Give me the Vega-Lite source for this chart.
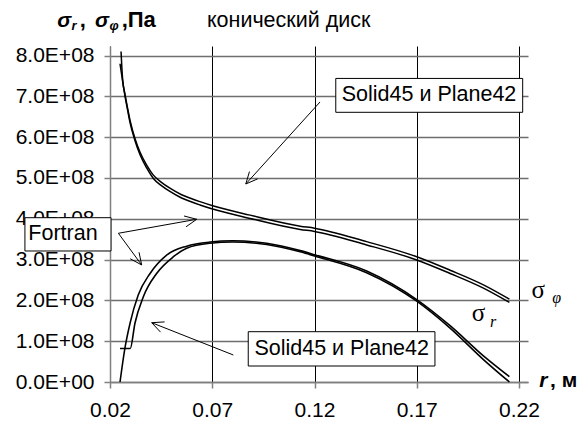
{
  "$schema": "https://vega.github.io/schema/vega-lite/v6.json",
  "width": 418,
  "height": 336,
  "autosize": {"type": "none"},
  "padding": {"left": 110, "top": 46, "right": 60, "bottom": 41},
  "background": "white",
  "config": {"view": {"stroke": null}, "font": "Liberation Sans"},
  "datasets": {
    "curves": [
      {"series": "phiF", "r": 0.0254, "s": 810000000},
      {"series": "phiF", "r": 0.0258, "s": 770000000},
      {"series": "phiF", "r": 0.0262, "s": 740000000},
      {"series": "phiF", "r": 0.0273, "s": 706000000},
      {"series": "phiF", "r": 0.0286, "s": 671000000},
      {"series": "phiF", "r": 0.0298, "s": 641000000},
      {"series": "phiF", "r": 0.0322, "s": 597000000},
      {"series": "phiF", "r": 0.0347, "s": 563000000},
      {"series": "phiF", "r": 0.038, "s": 531000000},
      {"series": "phiF", "r": 0.0412, "s": 507000000},
      {"series": "phiF", "r": 0.045, "s": 490000000},
      {"series": "phiF", "r": 0.0493, "s": 475000000},
      {"series": "phiF", "r": 0.055, "s": 459000000},
      {"series": "phiF", "r": 0.06, "s": 449000000},
      {"series": "phiF", "r": 0.064, "s": 442000000},
      {"series": "phiF", "r": 0.0702, "s": 432000000},
      {"series": "phiF", "r": 0.0885, "s": 409000000},
      {"series": "phiF", "r": 0.113, "s": 382000000},
      {"series": "phiF", "r": 0.12, "s": 377000000},
      {"series": "phiF", "r": 0.1455, "s": 344000000},
      {"series": "phiF", "r": 0.17, "s": 307000000},
      {"series": "phiF", "r": 0.1863, "s": 274000000},
      {"series": "phiF", "r": 0.2026, "s": 238000000},
      {"series": "phiF", "r": 0.2153, "s": 203000000},
      {"series": "phiA", "r": 0.0249, "s": 780000000},
      {"series": "phiA", "r": 0.0261, "s": 740000000},
      {"series": "phiA", "r": 0.0273, "s": 702000000},
      {"series": "phiA", "r": 0.0286, "s": 667000000},
      {"series": "phiA", "r": 0.0298, "s": 636000000},
      {"series": "phiA", "r": 0.0322, "s": 592000000},
      {"series": "phiA", "r": 0.0347, "s": 557000000},
      {"series": "phiA", "r": 0.038, "s": 524000000},
      {"series": "phiA", "r": 0.0412, "s": 499000000},
      {"series": "phiA", "r": 0.045, "s": 482000000},
      {"series": "phiA", "r": 0.0493, "s": 467000000},
      {"series": "phiA", "r": 0.055, "s": 451000000},
      {"series": "phiA", "r": 0.06, "s": 441000000},
      {"series": "phiA", "r": 0.064, "s": 434000000},
      {"series": "phiA", "r": 0.0702, "s": 424000000},
      {"series": "phiA", "r": 0.0885, "s": 401000000},
      {"series": "phiA", "r": 0.113, "s": 374000000},
      {"series": "phiA", "r": 0.12, "s": 369000000},
      {"series": "phiA", "r": 0.1455, "s": 336000000},
      {"series": "phiA", "r": 0.17, "s": 299000000},
      {"series": "phiA", "r": 0.1863, "s": 266000000},
      {"series": "phiA", "r": 0.2026, "s": 230000000},
      {"series": "phiA", "r": 0.2153, "s": 195000000},
      {"series": "rA", "r": 0.0249, "s": 0},
      {"series": "rA", "r": 0.0273, "s": 83000000},
      {"series": "rA", "r": 0.0298, "s": 144000000},
      {"series": "rA", "r": 0.0338, "s": 213000000},
      {"series": "rA", "r": 0.0396, "s": 266000000},
      {"series": "rA", "r": 0.0477, "s": 311000000},
      {"series": "rA", "r": 0.0575, "s": 333000000},
      {"series": "rA", "r": 0.0689, "s": 343000000},
      {"series": "rA", "r": 0.08, "s": 346000000},
      {"series": "rA", "r": 0.0966, "s": 340000000},
      {"series": "rA", "r": 0.113, "s": 322000000},
      {"series": "rA", "r": 0.12, "s": 312000000},
      {"series": "rA", "r": 0.1455, "s": 272000000},
      {"series": "rA", "r": 0.17, "s": 202000000},
      {"series": "rA", "r": 0.1863, "s": 138000000},
      {"series": "rA", "r": 0.2026, "s": 64000000},
      {"series": "rA", "r": 0.2153, "s": 13000000},
      {"series": "rF", "r": 0.0249, "s": 82000000},
      {"series": "rF", "r": 0.0299, "s": 82000000},
      {"series": "rF", "r": 0.0322, "s": 144000000},
      {"series": "rF", "r": 0.0363, "s": 209000000},
      {"series": "rF", "r": 0.0428, "s": 266000000},
      {"series": "rF", "r": 0.051, "s": 307000000},
      {"series": "rF", "r": 0.0575, "s": 328000000},
      {"series": "rF", "r": 0.0689, "s": 340000000},
      {"series": "rF", "r": 0.08, "s": 343000000},
      {"series": "rF", "r": 0.0966, "s": 337000000},
      {"series": "rF", "r": 0.113, "s": 319000000},
      {"series": "rF", "r": 0.12, "s": 309000000},
      {"series": "rF", "r": 0.1455, "s": 268000000},
      {"series": "rF", "r": 0.17, "s": 198000000},
      {"series": "rF", "r": 0.1863, "s": 132000000},
      {"series": "rF", "r": 0.2026, "s": 55000000},
      {"series": "rF", "r": 0.2153, "s": 0}
    ],
    "boxes": [
      {"label": "Solid45 и Plane42", "x1": 0.1304, "x2": 0.2218, "y1": 744000000, "y2": 661000000, "tx": 0.176, "ty": 703000000},
      {"label": "Solid45 и Plane42", "x1": 0.0876, "x2": 0.1789, "y1": 123300000, "y2": 39200000, "tx": 0.1333, "ty": 81400000},
      {"label": "Fortran", "x1": -0.0216, "x2": 0.0205, "y1": 402700000, "y2": 321100000, "tx": -0.003, "ty": 362000000}
    ],
    "arrows": [
      {"arrow": "a1", "k": 1, "r": 0.1227, "s": 686300000},
      {"arrow": "a1", "k": 2, "r": 0.0864, "s": 485300000},
      {"arrow": "a1h", "k": 1, "r": 0.0922, "s": 497800000},
      {"arrow": "a1h", "k": 2, "r": 0.0864, "s": 485300000},
      {"arrow": "a1h", "k": 3, "r": 0.0882, "s": 515700000},
      {"arrow": "a2", "k": 1, "r": 0.0803, "s": 66200000},
      {"arrow": "a2", "k": 2, "r": 0.0404, "s": 145300000},
      {"arrow": "a2h", "k": 1, "r": 0.0447, "s": 122300000},
      {"arrow": "a2h", "k": 2, "r": 0.0404, "s": 145300000},
      {"arrow": "a2h", "k": 3, "r": 0.0467, "s": 147300000},
      {"arrow": "a3", "k": 1, "r": 0.0624, "s": 398800000},
      {"arrow": "a3", "k": 2, "r": 0.0241, "s": 364500000},
      {"arrow": "a3", "k": 3, "r": 0.0355, "s": 286800000},
      {"arrow": "a3h", "k": 1, "r": 0.0562, "s": 406900000},
      {"arrow": "a3h", "k": 2, "r": 0.0624, "s": 398800000},
      {"arrow": "a3h", "k": 3, "r": 0.0572, "s": 380400000},
      {"arrow": "a4h", "k": 1, "r": 0.0342, "s": 317900000},
      {"arrow": "a4h", "k": 2, "r": 0.0355, "s": 286800000},
      {"arrow": "a4h", "k": 3, "r": 0.0299, "s": 302000000}
    ],
    "labels": [
      {"kind": "tb", "text": "σ", "r": -0.0058, "s": 870000000},
      {"kind": "ts", "text": "r", "r": 0.0012, "s": 862800000},
      {"kind": "tn", "text": ",", "r": 0.0052, "s": 870000000},
      {"kind": "tb", "text": "σ", "r": 0.0127, "s": 870000000},
      {"kind": "ts", "text": "φ", "r": 0.0197, "s": 862800000},
      {"kind": "tn", "text": ",Па", "r": 0.0257, "s": 870000000},
      {"kind": "tt", "text": "конический диск", "r": 0.0674, "s": 870000000},
      {"kind": "xr", "text": "r", "r": 0.2299, "s": -12300000},
      {"kind": "xu", "text": ", м", "r": 0.2352, "s": -12300000},
      {"kind": "sg", "text": "σ", "r": 0.2261, "s": 205900000},
      {"kind": "ss", "text": "φ", "r": 0.2362, "s": 193600000},
      {"kind": "sg", "text": "σ", "r": 0.1969, "s": 149500000},
      {"kind": "ss", "text": "r", "r": 0.2058, "s": 135500000}
    ]
  },
  "encoding": {
    "x": {"field": "r", "type": "quantitative", "scale": {"domain": [0.02, 0.2244], "nice": false, "zero": false},
      "axis": {"values": [0.02, 0.07, 0.12, 0.17, 0.22], "format": ".2f", "title": null,
        "labelFontSize": 21, "labelColor": "black", "labelFont": "Liberation Sans", "labelPadding": 11,
        "tickSize": 6, "tickColor": "#808080", "tickWidth": 1.5, "domainColor": "#808080", "domainWidth": 1.5,
        "grid": true, "gridColor": "black", "gridWidth": 1, "gridOpacity": 1, "labelFlush": false, "labelOverlap": false}},
    "y": {"field": "s", "type": "quantitative", "scale": {"domain": [0, 823500000], "nice": false},
      "axis": {"values": [0, 100000000, 200000000, 300000000, 400000000, 500000000, 600000000, 700000000, 800000000],
        "labelExpr": "format(datum.value/1e8, '.1f') + (datum.value == 0 ? 'E+00' : 'E+08')", "title": null,
        "labelFontSize": 21, "labelColor": "black", "labelFont": "Liberation Sans", "labelPadding": 10,
        "tickSize": 6, "tickColor": "#808080", "tickWidth": 1.5, "domainColor": "#808080", "domainWidth": 1.5,
        "grid": true, "gridColor": "#6e6e6e", "gridWidth": 1.5, "gridOpacity": 1, "labelOverlap": false}}
  },
  "layer": [
    {
      "data": {"name": "curves"},
      "mark": {"type": "line", "color": "black", "clip": false, "interpolate": "monotone"},
      "encoding": {
        "detail": {"field": "series", "type": "nominal"},
        "strokeWidth": {"field": "series", "type": "nominal", "scale": {"domain": ["phiF", "phiA", "rA", "rF"], "range": [1.5, 1.6, 2.6, 1.5]}, "legend": null}
      }
    },
    {
      "data": {"name": "arrows"},
      "mark": {"type": "line", "color": "black", "strokeWidth": 1, "clip": false},
      "encoding": {
        "detail": {"field": "arrow", "type": "nominal"},
        "order": {"field": "k", "type": "quantitative"}
      }
    },
    {
      "data": {"name": "boxes"},
      "mark": {"type": "rect", "fill": "white", "stroke": "black", "strokeWidth": 1, "clip": false},
      "encoding": {
        "x": {"field": "x1", "type": "quantitative"},
        "x2": {"field": "x2"},
        "y": {"field": "y1", "type": "quantitative"},
        "y2": {"field": "y2"}
      }
    },
    {
      "data": {"name": "boxes"},
      "mark": {"type": "text", "fontSize": 21.5, "font": "Liberation Sans", "color": "black", "align": "center", "baseline": "middle", "clip": false},
      "encoding": {
        "x": {"field": "tx", "type": "quantitative"},
        "y": {"field": "ty", "type": "quantitative"},
        "text": {"field": "label"}
      }
    },
    {
      "data": {"name": "labels"},
      "transform": [{"filter": "datum.kind == 'tb'"}],
      "mark": {"type": "text", "fontSize": 21, "fontWeight": "bold", "fontStyle": "italic", "font": "Liberation Sans", "color": "black", "align": "left", "baseline": "alphabetic", "clip": false},
      "encoding": {"text": {"field": "text"}}
    },
    {
      "data": {"name": "labels"},
      "transform": [{"filter": "datum.kind == 'ts'"}],
      "mark": {"type": "text", "fontSize": 13, "fontWeight": "bold", "fontStyle": "italic", "font": "Liberation Sans", "color": "black", "align": "left", "baseline": "alphabetic", "clip": false},
      "encoding": {"text": {"field": "text"}}
    },
    {
      "data": {"name": "labels"},
      "transform": [{"filter": "datum.kind == 'tn'"}],
      "mark": {"type": "text", "fontSize": 22, "fontWeight": "bold", "font": "Liberation Sans", "color": "black", "align": "left", "baseline": "alphabetic", "clip": false},
      "encoding": {"text": {"field": "text"}}
    },
    {
      "data": {"name": "labels"},
      "transform": [{"filter": "datum.kind == 'tt'"}],
      "mark": {"type": "text", "fontSize": 21.5, "font": "Liberation Sans", "color": "black", "align": "left", "baseline": "alphabetic", "clip": false},
      "encoding": {"text": {"field": "text"}}
    },
    {
      "data": {"name": "labels"},
      "transform": [{"filter": "datum.kind == 'xr'"}],
      "mark": {"type": "text", "fontSize": 21, "fontWeight": "bold", "fontStyle": "italic", "font": "Liberation Sans", "color": "black", "align": "left", "baseline": "alphabetic", "clip": false},
      "encoding": {"text": {"field": "text"}}
    },
    {
      "data": {"name": "labels"},
      "transform": [{"filter": "datum.kind == 'xu'"}],
      "mark": {"type": "text", "fontSize": 21, "fontWeight": "bold", "font": "Liberation Sans", "color": "black", "align": "left", "baseline": "alphabetic", "clip": false},
      "encoding": {"text": {"field": "text"}}
    },
    {
      "data": {"name": "labels"},
      "transform": [{"filter": "datum.kind == 'sg'"}],
      "mark": {"type": "text", "fontSize": 25, "font": "Liberation Serif", "color": "black", "align": "left", "baseline": "alphabetic", "clip": false},
      "encoding": {"text": {"field": "text"}}
    },
    {
      "data": {"name": "labels"},
      "transform": [{"filter": "datum.kind == 'ss'"}],
      "mark": {"type": "text", "fontSize": 16, "fontStyle": "italic", "font": "Liberation Serif", "color": "black", "align": "left", "baseline": "alphabetic", "clip": false},
      "encoding": {"text": {"field": "text"}}
    }
  ]
}
